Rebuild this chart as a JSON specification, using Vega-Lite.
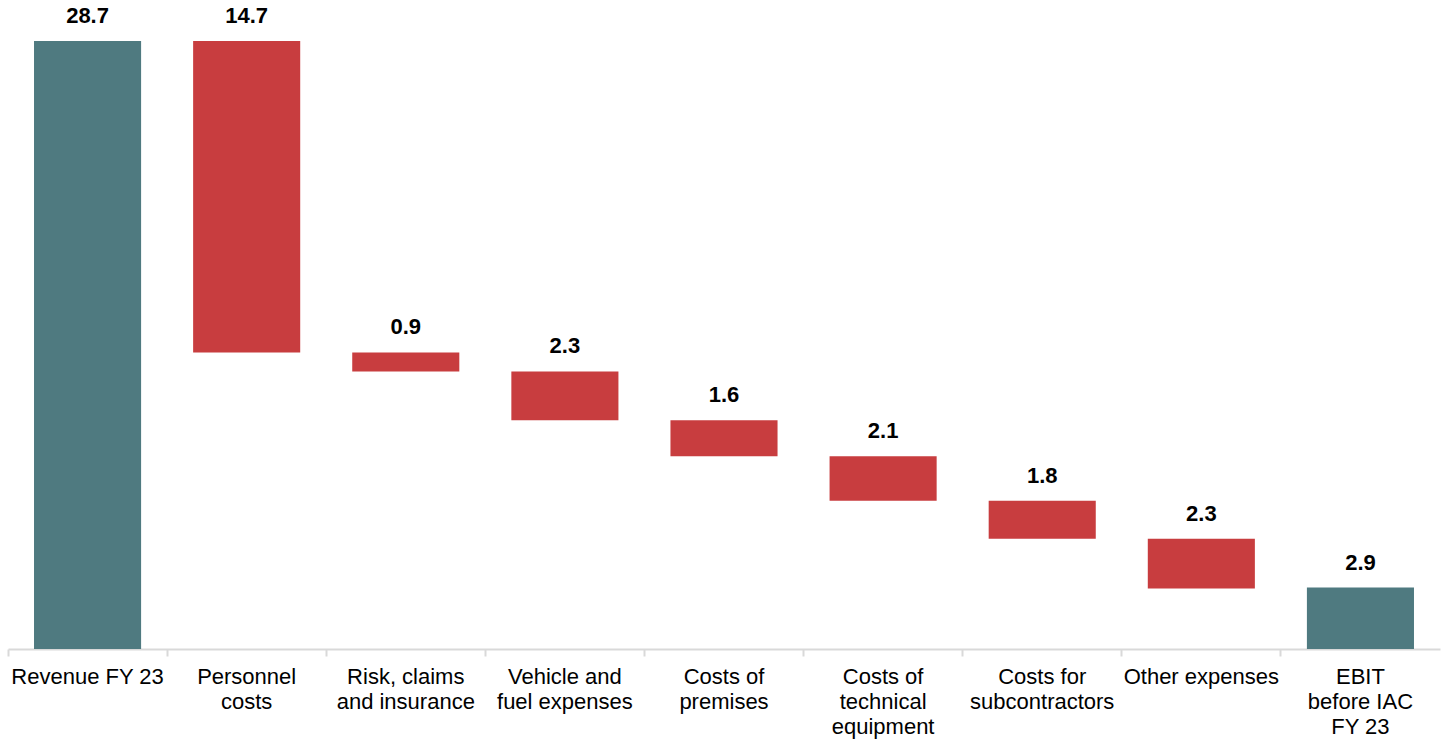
{
  "$schema": "https://vega.github.io/schema/vega-lite/v6.json",
  "width": 1432,
  "height": 608,
  "autosize": {"type": "none"},
  "padding": {"left": 8, "top": 41, "right": 6, "bottom": 91},
  "background": "white",
  "config": {
    "view": {"stroke": null},
    "font": "Liberation Sans"
  },
  "data": {
    "values": [
      {"cat": "Revenue FY 23", "start": 0, "end": 28.7, "label": "28.7", "kind": "total"},
      {"cat": "Personnel|costs", "start": 28.7, "end": 14.0, "label": "14.7", "kind": "cost"},
      {"cat": "Risk, claims|and insurance", "start": 14.0, "end": 13.1, "label": "0.9", "kind": "cost"},
      {"cat": "Vehicle and|fuel expenses", "start": 13.1, "end": 10.8, "label": "2.3", "kind": "cost"},
      {"cat": "Costs of|premises", "start": 10.8, "end": 9.1, "label": "1.6", "kind": "cost"},
      {"cat": "Costs of|technical|equipment", "start": 9.1, "end": 7.0, "label": "2.1", "kind": "cost"},
      {"cat": "Costs for|subcontractors", "start": 7.0, "end": 5.2, "label": "1.8", "kind": "cost"},
      {"cat": "Other expenses", "start": 5.2, "end": 2.85, "label": "2.3", "kind": "cost"},
      {"cat": "EBIT|before IAC|FY 23", "start": 0, "end": 2.9, "label": "2.9", "kind": "total"}
    ]
  },
  "encoding": {
    "x": {
      "field": "cat",
      "type": "nominal",
      "sort": null,
      "scale": {"paddingInner": 0, "paddingOuter": 0},
      "axis": {
        "title": null,
        "bandPosition": 0,
        "labelAngle": 0,
        "labelExpr": "split(datum.value, '|')",
        "labelFont": "Liberation Sans",
        "labelFontSize": 22,
        "labelLineHeight": 25,
        "labelColor": "#000000",
        "labelPadding": 10,
        "labelLimit": 0,
        "labelOverlap": false,
        "labelBound": false,
        "labelFlush": false,
        "domainColor": "#d9d9d9",
        "domainWidth": 2,
        "tickColor": "#d9d9d9",
        "tickWidth": 2,
        "tickSize": 7,
        "grid": false
      }
    }
  },
  "layer": [
    {
      "mark": {"type": "bar", "width": {"band": 0.673}},
      "encoding": {
        "y": {"field": "start", "type": "quantitative", "scale": {"domain": [0, 28.7], "nice": false, "zero": true}, "axis": null},
        "y2": {"field": "end"},
        "color": {
          "field": "kind",
          "type": "nominal",
          "scale": {"domain": ["total", "cost"], "range": ["#4f7a80", "#c83d3f"]},
          "legend": null
        }
      }
    },
    {
      "mark": {"type": "text", "font": "Liberation Sans", "fontSize": 22, "fontWeight": "bold", "color": "#000000", "baseline": "alphabetic", "dy": -18},
      "encoding": {
        "y": {"field": "top", "type": "quantitative"},
        "text": {"field": "label"}
      },
      "transform": [{"calculate": "max(datum.start, datum.end)", "as": "top"}]
    }
  ]
}
